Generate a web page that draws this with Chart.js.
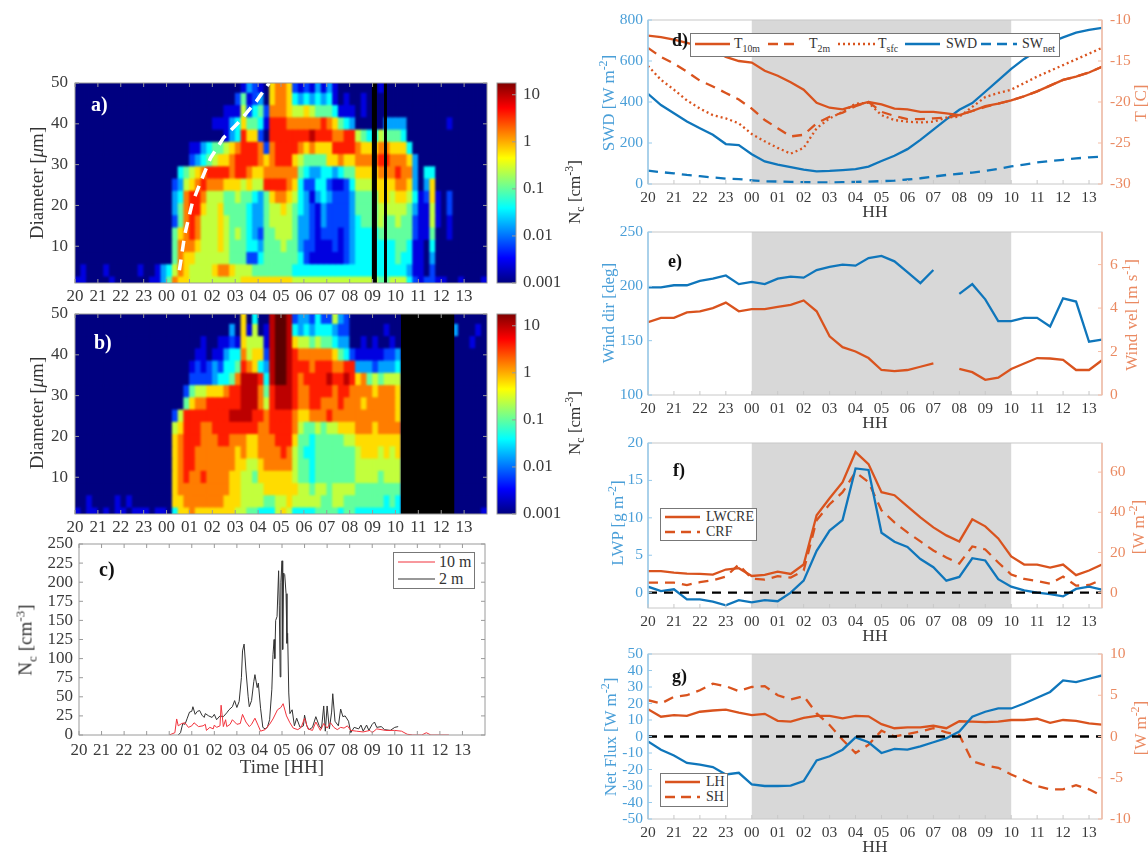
<!DOCTYPE html>
<html>
<head>
<meta charset="utf-8">
<script src="https://cdn.jsdelivr.net/npm/chart.js@4"></script>
<style>
html, body { margin: 0; background: #fff; }
#page { position: relative; width: 1148px; height: 855px; overflow: hidden; filter: blur(0.55px); font-family: "Liberation Serif", serif; color: #333; }
#page canvas { position: absolute; }
.txt { position: absolute; white-space: nowrap; line-height: 1; transform: translateY(-50%); }
.rot { position: absolute; white-space: nowrap; line-height: 1; transform: translate(-50%, -50%) rotate(-90deg); }
.box { position: absolute; background: #fff; border: 1.5px solid #777; box-sizing: border-box; }
sub, sup { font-size: 70%; line-height: 0; }
</style>
</head>
<body>
<div id="page"></div>
<script>
// hour axis: 20..23 then 00..13 the next day, counted on from 24
const HOUR_TICKS = [20, 21, 22, 23, 24, 25, 26, 27, 28, 29, 30, 31, 32, 33, 34, 35, 36, 37];
const HOUR_LABELS = ["20", "21", "22", "23", "00", "01", "02", "03", "04", "05", "06", "07", "08", "09", "10", "11", "12", "13"];
const HALF_HOURS = [20, 20.5, 21, 21.5, 22, 22.5, 23, 23.5, 24, 24.5, 25, 25.5, 26, 26.5, 27, 27.5, 28, 28.5,
    29, 29.5, 30, 30.5, 31, 31.5, 32, 32.5, 33, 33.5, 34, 34.5, 35, 35.5, 36, 36.5, 37, 37.5];

// bin edges of the size spectra, bottom to top
const DIAMETER_EDGES = [1, 2.5, 5.5, 8.5, 11.5, 14.5, 17.5, 20.5, 23.5, 26.5, 29.5, 32.5, 35.5, 38.5, 41.5, 44.5, 47.5, 50];
const DIAMETER_TICKS = [10, 20, 30, 40, 50];
const COLORBAR_TICKS = [0.001, 0.01, 0.1, 1, 10];

// spectra, top row first, one group per hour, 15 min per char.
// each char is a hex level: log10(Nc) = -3 + 0.4 * level
const heatRowsA = [
    "0000 0000 0000 0000 0000 0000 0000 0132 1078 8721 2131 3100 0000 0100 0000 0000 0000 0000",
    "0000 0000 0000 0000 0000 0000 0000 2512 3078 8743 4343 4101 0010 0000 0000 0000 0000 0000",
    "0000 0000 0000 0000 0000 0000 0011 1624 5288 8766 7655 5411 1010 0000 0000 0000 0000 0000",
    "0000 0000 0000 0000 0000 0000 1113 4755 4199 9888 8889 8754 3000 0033 3300 0000 0100 0000",
    "0000 0000 0000 0000 0000 0000 0013 4977 2099 9999 9A99 9889 9654 4655 5400 0000 0000 0000",
    "0000 0000 0000 0000 0000 1134 5567 8999 8289 9998 7877 7999 9877 7887 7740 0000 0000 0000",
    "0000 0000 0000 0000 0000 2345 6778 9999 8789 9976 5555 7787 7888 8998 8873 0000 0000 0000",
    "0000 0000 0000 0000 0045 6789 9998 9987 7888 8885 4334 4345 5777 7888 9883 0440 0000 0000",
    "0000 0000 0000 0000 0236 7898 8877 7676 6999 9874 2244 2112 4666 7777 8873 0370 0000 0000",
    "0000 0000 0000 0000 0348 9986 6655 6554 3578 8764 3134 3222 3555 5776 7764 1271 0200 0000",
    "0000 0000 0000 0000 0358 9976 6755 5543 3566 7654 3213 2222 3555 5666 6653 1161 0200 0000",
    "0000 0000 0000 0000 0258 9866 6765 5543 3566 6653 3213 2222 3455 5655 6552 1161 0100 0000",
    "0000 0000 0000 0000 0578 9866 6765 6543 2556 6653 3212 2212 3444 4555 5552 1150 0100 0000",
    "0000 0000 0000 0000 0588 8766 6765 5544 3555 6553 2211 1212 3444 4444 5541 1040 0000 0000",
    "0000 0000 0000 0000 0587 7666 6665 5522 4555 5554 2111 1112 3444 4444 5441 1030 0000 0000",
    "0100 0100 0001 0013 4687 6666 7887 6665 5555 5544 4444 4444 4444 4444 4431 1020 0000 0000",
    "1100 0010 0000 0113 5877 6666 6666 6777 7777 7766 6666 6666 6666 6556 6642 1221 1001 0001"
];
const heatRowsB = [
    "0000 0000 0000 0000 0000 0000 0000 0704 00AB BA23 3242 2632 0000 0000 0000 0000 0000 0000",
    "0000 0000 0000 0000 0000 0000 0003 0716 01AB BA43 4344 4322 0000 0010 0000 0000 0030 0010",
    "0000 0000 0000 0000 0000 0010 0112 1766 61AB BA76 6565 5433 0010 1001 0000 0000 0000 0100",
    "0000 0000 0000 0000 0000 0110 1134 4867 72AB BA98 8888 8754 2111 1122 3000 0000 0000 0000",
    "0000 0000 0000 0000 0000 1212 3244 5987 43AB BA99 9899 9889 9333 2333 4000 0000 0000 0000",
    "0000 0000 0000 0000 0000 2222 3445 8AAA 94AB BA98 9999 A99A 9785 6566 6000 0000 0000 0000",
    "0000 0000 0000 0000 0002 5667 7789 9AAA 859A AA98 8999 9899 8888 7888 7000 0000 0000 0000",
    "0000 0000 0000 0000 0005 7889 9999 9AAA 869A AA98 8998 8898 8878 8888 7000 0000 0000 0000",
    "0000 0000 0000 0000 0269 9999 999A AAA9 9899 9987 7888 9888 8888 8888 7000 0000 0000 0000",
    "0000 0000 0000 0000 0679 9988 9999 9999 8899 9986 5565 6677 7888 7888 8000 0000 0000 0000",
    "0000 0000 0000 0000 0789 9988 8998 8877 8889 9975 5455 5556 6777 7777 7000 0000 0000 0000",
    "0000 0000 0000 0000 0789 9888 8888 7877 8888 9865 4455 5555 5677 7676 7000 0000 0000 0000",
    "0000 0000 0000 0000 0789 9888 8888 7766 7888 8865 5455 5555 5666 6666 6000 0000 0000 0000",
    "0000 0000 0000 0000 0789 8898 8887 7665 7777 7765 5455 5555 5666 6566 6000 0000 0000 0000",
    "0000 0000 0000 0000 0788 8888 8887 7666 6777 7776 6566 5666 6555 5555 5000 0000 0000 0000",
    "0010 0001 0100 0000 0778 8888 8877 7666 6556 6766 6665 5665 5555 5545 4000 0000 0000 0000",
    "1011 0101 1011 1011 0477 8777 7777 6655 4446 7644 4455 5545 5444 4444 4000 0000 0000 0001"
];
// times without data, drawn black
const missingA = [[32.97, 33.19], [33.5, 33.63]];
const missingB = [[34.24, 36.57]];

// white dashed line in panel a
const dashTimes = [24.56, 24.8, 25.12, 25.52, 25.92, 26.48, 27.12, 27.92, 28.48];
const dashDiameters = [4.1, 13, 20.5, 26.2, 31.6, 36.5, 40.2, 45.5, 50];

// panel c
const NC_TICKS = [0, 25, 50, 75, 100, 125, 150, 175, 200, 225, 250];
const times2m = [24.4, 24.5, 24.6, 24.7, 24.8, 24.9, 25, 25.05, 25.15, 25.25, 25.35, 25.45, 25.55, 25.6, 25.75, 25.9, 26, 26.1, 26.25, 26.4,
    26.55, 26.65, 26.8, 26.9, 27, 27.1, 27.2, 27.25, 27.32, 27.4, 27.5, 27.55, 27.65, 27.75, 27.8, 27.9, 27.95, 28.05, 28.15, 28.25,
    28.35, 28.45, 28.55, 28.6, 28.65, 28.68, 28.72, 28.78, 28.85, 28.88, 28.92, 28.95, 29, 29.03, 29.07, 29.12, 29.18, 29.22, 29.25, 29.3,
    29.35, 29.45, 29.55, 29.65, 29.8, 29.95, 30, 30.1, 30.2, 30.35, 30.5, 30.65, 30.75, 30.85, 30.92, 31, 31.1, 31.2, 31.25, 31.35,
    31.5, 31.6, 31.7, 31.8, 31.95, 32.05, 32.2, 32.4, 32.5, 32.6, 32.75, 32.85, 33, 33.1, 33.2, 33.4, 33.55, 33.8, 34, 34.15];
const nc2m = [0, 3, 15, 14, 22, 30, 31, 37, 27, 31, 32, 26, 23, 28, 25, 23, 27, 20, 25, 24,
    29, 33, 37, 45, 36, 44, 75, 110, 119, 85, 50, 37, 45, 70, 79, 62, 68, 35, 10, 8,
    10, 20, 60, 105, 125, 100, 150, 155, 215, 170, 76, 200, 228, 112, 212, 210, 185, 120, 133, 55,
    28, 33, 12, 22, 10, 12, 26, 12, 7, 10, 24, 12, 8, 38, 5, 38, 8, 30, 54, 18,
    12, 34, 24, 25, 18, 3, 10, 8, 13, 5, 13, 6, 14, 17, 10, 11, 7, 6, 10, 11];
const times10m = [24, 24.25, 24.33, 24.4, 24.55, 24.7, 24.85, 25, 25.1, 25.3, 25.5, 25.6, 25.65, 25.8, 25.95, 26, 26.1, 26.25, 26.3, 26.4,
    26.5, 26.55, 26.7, 26.8, 27, 27.15, 27.25, 27.4, 27.55, 27.65, 27.8, 27.95, 28.05, 28.25, 28.45, 28.6, 28.8, 28.95, 29.05, 29.2,
    29.35, 29.5, 29.7, 29.85, 30, 30.15, 30.35, 30.5, 30.7, 30.85, 31, 31.15, 31.3, 31.45, 31.6, 31.75, 31.9, 32.05, 32.3, 32.6,
    32.9, 33, 33.2, 33.6, 34, 34.3, 34.55, 34.8, 35.2, 35.4, 35.6, 36.4];
const nc10m = [0, 3, 21, 12, 15, 16, 10, 12, 16, 11, 12, 14, 6, 10, 8, 13, 10, 12, 39, 11,
    20, 11, 14, 20, 14, 15, 27, 17, 11, 14, 22, 12, 5, 7, 14, 21, 33, 36, 41, 25,
    16, 9, 7, 10, 22, 8, 6, 17, 6, 15, 9, 16, 10, 7, 10, 9, 12, 6, 5, 4,
    6, 3, 8, 6, 6, 5, 1, 0, 0, 3, 0, 0];

// panel d
const swd = [440, 385, 345, 305, 272, 240, 195, 190, 145, 110, 95, 82, 70, 62, 64, 68, 73, 85, 112, 138, 170, 215, 265, 315, 362, 395, 450, 505, 562, 610, 650, 690, 715, 738, 752, 762];
const swNet = [65, 58, 52, 44, 38, 32, 26, 24, 18, 13, 12, 10, 9, 8, 8, 9, 10, 12, 14, 16, 22, 28, 36, 44, 50, 56, 64, 74, 86, 95, 105, 112, 118, 125, 130, 133];
const t10m = [-11.9, -12.1, -12.4, -12.8, -13.2, -13.6, -14.5, -15, -15.2, -16.2, -16.8, -17.6, -18.5, -20.1, -20.7, -20.9, -20.4, -20, -20.3, -20.8, -20.9, -21.2, -21.2, -21.4, -21.6, -21.1, -20.5, -20.2, -19.8, -19.3, -18.7, -18, -17.3, -16.9, -16.4, -15.7];
const t2m = [-13.4, -14.5, -15.3, -16.3, -17.4, -18.1, -18.9, -19.7, -20.8, -22.2, -23.2, -24.2, -24, -22.6, -21.8, -21.3, -20.5, -20, -21.2, -21.7, -22.1, -22.1, -22, -21.9, -21.6, -21.1, -20.6, -20.2, -19.8, -19.3, -18.7, -18, -17.3, -16.9, -16.4, -15.7];
const tSfc = [-15.6, -17.3, -18.5, -19.8, -20.8, -21.6, -22, -22.6, -23.9, -24.8, -25.6, -26.3, -25.6, -23.2, -22, -21.2, -20.2, -20.1, -21.6, -22.2, -22.4, -22.5, -22.4, -21.9, -21.8, -20.6, -19.4, -18.9, -18.5, -17.7, -16.9, -16.2, -15.5, -14.8, -14.1, -13.4];

// panel e
const windDir = [199, 199, 201, 201, 205, 207, 210, 202, 204, 202, 207, 209, 208, 215, 218, 220, 219, 226, 228, 223, 213, 203, 215, null, 193, 202, 188, 168, 168, 171, 171, 163, 189, 186, 149, 151];
const windVel = [3.35, 3.55, 3.55, 3.8, 3.85, 4, 4.25, 3.85, 3.95, 3.95, 4.05, 4.15, 4.35, 3.85, 2.7, 2.2, 2, 1.7, 1.15, 1.1, 1.15, 1.3, 1.45, null, 1.2, 1.05, 0.7, 0.8, 1.2, 1.45, 1.7, 1.68, 1.62, 1.15, 1.15, 1.6];

// panel f
const lwp = [0.8, 0.2, 0.45, -0.9, -0.9, -1.2, -1.7, -1, -1.3, -1, -1.15, 0, 1.6, 5.6, 8.3, 9.7, 16.6, 16.4, 8, 6.8, 6.1, 4.5, 3.4, 1.6, 2.1, 4.6, 4.3, 1.8, 0.8, 0.3, 0, -0.2, -0.5, 0.5, 0.8, 0.4];
const lwcre = [10.7, 10.7, 10, 9.5, 9.3, 9, 11.5, 12.2, 8.3, 8.8, 10.5, 9.3, 14, 38.5, 47, 55, 70, 64, 50, 48.5, 43, 37.5, 32.5, 28.5, 25.5, 36.5, 33, 27, 18, 14, 14, 12.5, 14, 8.7, 11, 14];
const crf = [5, 5, 5, 3.8, 5.2, 6.2, 8, 14, 7, 6.5, 8.2, 7.5, 11, 36, 44, 50, 60, 55, 41, 35, 30, 25.5, 21, 17.5, 14.5, 23, 21.5, 15, 9, 6.8, 5.8, 4.5, 8, 3.5, 3.8, 6.5];

// panel g
const netFlux = [-3, -8, -11.5, -16, -17, -18.5, -23, -22, -29, -30, -30, -29.8, -27, -14.5, -12, -8, -0.5, -3.5, -10, -7.5, -8, -6, -3.5, -1, 3, 12, 15, 17, 17, 20, 23.5, 27, 34, 33, 35, 37];
const lh = [3.3, 2.4, 2.6, 2.5, 3, 3.15, 3.25, 2.9, 2.6, 2.75, 1.9, 1.8, 2.25, 2.5, 2.5, 2.2, 2.5, 2.45, 1.5, 1, 1.1, 1.1, 1.3, 1, 1.85, 1.8, 1.75, 1.8, 2, 2, 2.15, 1.65, 2, 1.9, 1.6, 1.45];
const sh = [4.4, 4, 4.8, 5, 5.6, 6.4, 6.1, 5.5, 6, 6.1, 5, 4.5, 4.9, 2.8, 1.4, -0.4, -2, -1, 0.7, 0, 0.3, 0.6, 1, 0.5, 0.2, -3, -3.5, -3.8, -4.6, -5.3, -6, -6.4, -6.4, -5.9, -6.4, -7.2];

const zeroTimes = [20, 37.5];
const zeroLine = [0, 0];
const NIGHT = [24, 34];

const BLUE = "#0f76bb";
const ORANGE = "#d9531e";
const BLUE_TEXT = "#4a9fd8";
const ORANGE_TEXT = "#ea8a62";
const BLUE_SPINE = "#97cbec";
const ORANGE_SPINE = "#f5bda6";
const DARK = "#3a3a3a";
const PAD_TOP = 24;

Chart.defaults.font.family = '"Liberation Serif", serif';
Chart.defaults.animation = false;
Chart.defaults.responsive = false;
Chart.defaults.devicePixelRatio = 1;
Chart.defaults.plugins.legend.display = false;
Chart.defaults.plugins.tooltip.enabled = false;

// gray night band, black no-data columns, box and inward tick marks
Chart.register({
    id: "panelDecor",
    beforeDatasetsDraw(chart, args, opts) {
        if (!opts.shade) return;
        const { ctx, chartArea, scales } = chart;
        const x0 = scales.x.getPixelForValue(opts.shade[0]);
        const x1 = scales.x.getPixelForValue(opts.shade[1]);
        ctx.fillStyle = "#d8d8d8";
        ctx.fillRect(x0, chartArea.top, x1 - x0, chartArea.height);
    },
    afterDatasetDraw(chart, args, opts) {
        // the spectra are soft in the reference, so smear the cells once they are all down
        if (!opts.smooth || args.meta.type !== "bar") return;
        const { ctx, chartArea } = chart;
        const { left, top, width, height } = chartArea;
        ctx.save();
        ctx.beginPath();
        ctx.rect(left, top, width, height);
        ctx.clip();
        ctx.filter = `blur(${opts.smooth}px)`;
        ctx.drawImage(chart.canvas, left, top, width, height, left, top, width, height);
        ctx.restore();
    },
    afterDatasetsDraw(chart, args, opts) {
        const { ctx, chartArea, scales } = chart;
        ctx.fillStyle = "#000";
        (opts.missing || []).forEach(span => {
            const x0 = scales.x.getPixelForValue(span[0]);
            const x1 = scales.x.getPixelForValue(span[1]);
            ctx.fillRect(x0, chartArea.top, x1 - x0, chartArea.height);
        });
        const { left, right, top, bottom } = chartArea;
        const frame = opts.frame || "#999";
        ctx.lineWidth = 1;
        ctx.strokeStyle = frame;
        ctx.strokeRect(left, top, right - left, bottom - top);
        const tick = (x0, y0, x1, y1, color) => {
            ctx.strokeStyle = color;
            ctx.beginPath();
            ctx.moveTo(x0, y0);
            ctx.lineTo(x1, y1);
            ctx.stroke();
        };
        const leftColor = opts.leftColor || frame;
        const rightColor = opts.rightColor || frame;
        if (opts.leftColor) { ctx.lineWidth = 1.5; tick(left, top, left, bottom, leftColor); ctx.lineWidth = 1; }
        if (opts.rightColor) { ctx.lineWidth = 1.5; tick(right, top, right, bottom, rightColor); ctx.lineWidth = 1; }
        Object.values(scales).forEach(scale => {
            if (!scale.options.display) return;
            scale.ticks.forEach(t => {
                const p = scale.getPixelForValue(t.value);
                if (scale.axis === "x") {
                    tick(p, bottom, p, bottom - 4, frame);
                    if (opts.mirror) tick(p, top, p, top + 4, frame);
                } else if (scale.position === "left") {
                    tick(left, p, left + 4, p, leftColor);
                    if (opts.mirror) tick(right, p, right - 4, p, frame);
                } else {
                    tick(right, p, right - 4, p, rightColor);
                }
            });
        });
    }
});

function addCanvas(left, top, width, height) {
    const canvas = document.createElement("canvas");
    canvas.width = width;
    canvas.height = height;
    canvas.style.left = left + "px";
    canvas.style.top = top + "px";
    canvas.style.width = width + "px";
    canvas.style.height = height + "px";
    document.getElementById("page").appendChild(canvas);
    return canvas;
}

function pairs(xs, ys) {
    return xs.map((x, i) => ({ x: x, y: ys[i] }));
}

function line(label, xs, ys, color, width, dash, axis) {
    return {
        type: "line",
        label: label,
        data: pairs(xs, ys),
        borderColor: color,
        borderWidth: width,
        borderDash: dash || [],
        pointRadius: 0,
        tension: 0,
        spanGaps: false,
        yAxisID: axis || "y"
    };
}

function jet(t) {
    const ch = v => Math.round(255 * Math.max(0, Math.min(1, v)));
    return `rgb(${ch(1.5 - Math.abs(4 * t - 3))}, ${ch(1.5 - Math.abs(4 * t - 2))}, ${ch(1.5 - Math.abs(4 * t - 1))})`;
}

function levelColor(level) {
    return jet(0.4 * level / 4.25);
}

function hourAxis(size, fontSize, title, max, padding) {
    return {
        type: "linear",
        min: 20,
        max: max,
        offset: false,
        grid: { display: false, offset: false, drawTicks: false },
        border: { display: false },
        afterBuildTicks: scale => { scale.ticks = HOUR_TICKS.map(v => ({ value: v })); },
        afterFit: scale => { scale.height = size; },
        ticks: {
            autoSkip: false,
            maxRotation: 0,
            padding: padding,
            color: DARK,
            font: { size: fontSize },
            callback: value => HOUR_LABELS[HOUR_TICKS.indexOf(value)]
        },
        title: title ? { display: true, text: title, color: DARK, padding: 0, font: { size: fontSize + 2 } } : { display: false }
    };
}

function valueAxis(position, min, max, tickValues, size, color, fontSize, padding) {
    return {
        type: "linear",
        position: position,
        min: min,
        max: max,
        grid: { display: false, drawTicks: false },
        border: { display: false },
        afterBuildTicks: scale => { scale.ticks = tickValues.map(v => ({ value: v })); },
        afterFit: scale => { scale.width = size; },
        ticks: { autoSkip: false, padding: padding, color: color, font: { size: fontSize } }
    };
}

function createHeatChart(rows, missing, plotTop, extraDatasets) {
    const cells = [];
    const colors = [];
    rows.forEach((row, r) => {
        const levels = row.replace(/ /g, "");
        const lo = DIAMETER_EDGES[rows.length - 1 - r];
        const hi = DIAMETER_EDGES[rows.length - r];
        for (let i = 0; i < levels.length; i++) {
            cells.push({ x: 20 + (i + 0.5) / 4, y: [lo, hi] });
            colors.push(levelColor(parseInt(levels[i], 16)));
        }
    });
    const config = {
        type: "bar",
        data: {
            datasets: extraDatasets.concat([{
                data: cells,
                backgroundColor: colors,
                barPercentage: 1,
                categoryPercentage: 1,
                order: 2
            }])
        },
        options: {
            layout: { padding: { top: PAD_TOP, right: 3 } },
            scales: {
                x: hourAxis(30, 17, null, 38, 3),
                y: valueAxis("left", 1, 50, DIAMETER_TICKS, 75, DARK, 17, 7)
            },
            plugins: { panelDecor: { missing: missing, mirror: true, frame: "#9a9a9a", smooth: 1.3 } }
        }
    };
    return new Chart(addCanvas(0, plotTop - PAD_TOP, 490, PAD_TOP + 200 + 30), config);
}

function createColorbar(plotTop) {
    const config = {
        type: "bar",
        data: {
            labels: [""],
            datasets: [{
                data: [[0.001, 17.78]],
                barPercentage: 1,
                categoryPercentage: 1,
                backgroundColor: context => {
                    const { ctx, chartArea } = context.chart;
                    if (!chartArea) return "#000";
                    const gradient = ctx.createLinearGradient(0, chartArea.bottom, 0, chartArea.top);
                    for (let i = 0; i <= 32; i++) gradient.addColorStop(i / 32, jet(i / 32));
                    return gradient;
                }
            }]
        },
        options: {
            layout: { padding: { top: PAD_TOP, bottom: 30, left: 7 } },
            scales: {
                x: { display: false },
                y: {
                    type: "logarithmic",
                    position: "right",
                    min: 0.001,
                    max: 17.78,
                    grid: { display: false, drawTicks: false },
                    border: { display: false },
                    afterBuildTicks: scale => { scale.ticks = COLORBAR_TICKS.map(v => ({ value: v })); },
                    afterFit: scale => { scale.width = 54; },
                    ticks: { autoSkip: false, padding: 7, color: DARK, font: { size: 17 }, callback: value => String(value) }
                }
            },
            plugins: { panelDecor: { frame: "#9a9a9a" } }
        }
    };
    return new Chart(addCanvas(490, plotTop - PAD_TOP, 80, PAD_TOP + 200 + 30), config);
}

function createNcChart() {
    const config = {
        type: "line",
        data: {
            datasets: [
                line("10 m", times10m, nc10m, "#f2323c", 1),
                line("2 m", times2m, nc2m, "#333333", 1)
            ]
        },
        options: {
            layout: { padding: { top: PAD_TOP, right: 5 } },
            scales: {
                x: hourAxis(44, 17, "Time [HH]", 38, 5),
                y: valueAxis("left", 0, 250, NC_TICKS, 79, DARK, 17, 6)
            },
            plugins: { panelDecor: { mirror: true, frame: "#9a9a9a" } }
        }
    };
    return new Chart(addCanvas(0, 544 - PAD_TOP, 490, PAD_TOP + 191 + 44), config);
}

function createDualAxisChart(plotTop, plotHeight, datasets, left, right) {
    const config = {
        type: "line",
        data: { datasets: datasets },
        options: {
            layout: { padding: { top: PAD_TOP } },
            scales: {
                x: hourAxis(39, 15.5, "HH", 37.5, 5),
                y: valueAxis("left", left.min, left.max, left.ticks, 58, BLUE_TEXT, 15.5, 5),
                y2: valueAxis("right", right.min, right.max, right.ticks, 46, ORANGE_TEXT, 15.5, 8)
            },
            plugins: {
                panelDecor: { shade: NIGHT, frame: "#c8c8c8", leftColor: BLUE_SPINE, rightColor: ORANGE_SPINE }
            }
        }
    };
    return new Chart(addCanvas(590, plotTop - PAD_TOP, 558, PAD_TOP + plotHeight + 39), config);
}

function text(html, x, y, size, color, weight) {
    const el = document.createElement("div");
    el.className = "txt";
    el.innerHTML = html;
    el.style.cssText = `left:${x}px;top:${y}px;font-size:${size}px;color:${color || "#333"};font-weight:${weight || "normal"}`;
    document.getElementById("page").appendChild(el);
}

function rotated(html, x, y, size, color) {
    const el = document.createElement("div");
    el.className = "rot";
    el.innerHTML = html;
    el.style.cssText = `left:${x}px;top:${y}px;font-size:${size}px;color:${color || "#333"}`;
    document.getElementById("page").appendChild(el);
}

function legendBox(x, y, w, h) {
    const el = document.createElement("div");
    el.className = "box";
    el.style.cssText = `left:${x}px;top:${y}px;width:${w}px;height:${h}px`;
    document.getElementById("page").appendChild(el);
}

function legendLine(x0, x1, y, color, width, dash) {
    const svg = document.createElementNS("http://www.w3.org/2000/svg", "svg");
    svg.setAttribute("style", `position:absolute;left:${x0}px;top:${y - 3}px;width:${x1 - x0}px;height:6px`);
    const l = document.createElementNS("http://www.w3.org/2000/svg", "line");
    l.setAttribute("x1", 0);
    l.setAttribute("x2", x1 - x0);
    l.setAttribute("y1", 3);
    l.setAttribute("y2", 3);
    l.setAttribute("stroke", color);
    l.setAttribute("stroke-width", width);
    if (dash) l.setAttribute("stroke-dasharray", dash);
    svg.appendChild(l);
    document.getElementById("page").appendChild(svg);
}

// left column
createHeatChart(heatRowsA, missingA, 83, [
    Object.assign(line("", dashTimes, dashDiameters, "#fff", 3.5, [11, 8]), { order: 1 })
]);
createColorbar(83);
createHeatChart(heatRowsB, missingB, 314, []);
createColorbar(314);
createNcChart();

// right column
createDualAxisChart(20, 164, [
    line("T10m", HALF_HOURS, t10m, ORANGE, 2.3, null, "y2"),
    line("T2m", HALF_HOURS, t2m, ORANGE, 2.3, [10, 7], "y2"),
    line("Tsfc", HALF_HOURS, tSfc, ORANGE, 2.3, [2, 3], "y2"),
    line("SWD", HALF_HOURS, swd, BLUE, 2.3),
    line("SWnet", HALF_HOURS, swNet, BLUE, 2.3, [10, 7])
], { min: 0, max: 800, ticks: [0, 200, 400, 600, 800] }, { min: -30, max: -10, ticks: [-30, -25, -20, -15, -10] });

createDualAxisChart(232, 163, [
    line("Wind dir", HALF_HOURS, windDir, BLUE, 2.3),
    line("Wind vel", HALF_HOURS, windVel, ORANGE, 2.3, null, "y2")
], { min: 100, max: 250, ticks: [100, 150, 200, 250] }, { min: 0, max: 7.5, ticks: [0, 2, 4, 6] });

createDualAxisChart(443, 165, [
    line("zero", zeroTimes, zeroLine, "#000", 2.3, [9, 7]),
    line("LWP", HALF_HOURS, lwp, BLUE, 2.3),
    line("LWCRE", HALF_HOURS, lwcre, ORANGE, 2.3, null, "y2"),
    line("CRF", HALF_HOURS, crf, ORANGE, 2.3, [10, 7], "y2")
], { min: -2.05, max: 20, ticks: [0, 5, 10, 15, 20] }, { min: -7.64, max: 74.5, ticks: [0, 20, 40, 60] });

createDualAxisChart(654, 165, [
    line("zero", zeroTimes, zeroLine, "#000", 2.3, [9, 7]),
    line("Net Flux", HALF_HOURS, netFlux, BLUE, 2.3),
    line("LH", HALF_HOURS, lh, ORANGE, 2.3, null, "y2"),
    line("SH", HALF_HOURS, sh, ORANGE, 2.3, [10, 7], "y2")
], { min: -50, max: 50, ticks: [-50, -40, -30, -20, -10, 0, 10, 20, 30, 40, 50] }, { min: -10, max: 10, ticks: [-10, -5, 0, 5, 10] });

// axis titles with sub- and superscripts
const NC_LABEL = "N<sub>c</sub> [cm<sup>-3</sup>]";
rotated("Diameter [<i>μ</i>m]", 36, 183, 19);
rotated("Diameter [<i>μ</i>m]", 36, 413, 19);
rotated(NC_LABEL, 574, 192, 17);
rotated(NC_LABEL, 574, 423, 17);
rotated(NC_LABEL, 25, 640, 19);
rotated("SWD [W m<sup>-2</sup>]", 608, 103, 17, BLUE_TEXT);
rotated("T [C]", 1140, 103, 17, ORANGE_TEXT);
rotated("Wind dir [deg]", 608, 313, 17, BLUE_TEXT);
rotated("Wind vel [m s<sup>-1</sup>]", 1131, 315, 17, ORANGE_TEXT);
rotated("LWP [g m<sup>-2</sup>]", 617, 523, 17, BLUE_TEXT);
rotated("[W m<sup>-2</sup>]", 1138, 527, 17, ORANGE_TEXT);
rotated("Net Flux [W m<sup>-2</sup>]", 610, 737, 17, BLUE_TEXT);
rotated("[W m<sup>-2</sup>]", 1140, 728, 17, ORANGE_TEXT);

// panel letters
text("a)", 91, 104, 20, "#fff", "bold");
text("b)", 94, 342, 20, "#fff", "bold");
text("c)", 99, 569, 20, "#111", "bold");
text("e)", 668, 261, 18, "#111", "bold");
text("f)", 673, 470, 18, "#111", "bold");
text("g)", 672, 676, 18, "#111", "bold");

// legends
legendBox(393, 552, 82, 37);
legendLine(398, 435, 562, "#f2323c", 1.2);
legendLine(398, 435, 579, "#333", 1.2);
text("10 m", 439, 562, 16);
text("2 m", 439, 579, 16);

legendBox(690, 33, 370, 24);
legendLine(695, 730, 44, ORANGE, 2.3);
text("T<sub>10m</sub>", 734, 44, 14);
legendLine(768, 800, 44, ORANGE, 2.3, "10 6");
text("T<sub>2m</sub>", 809, 44, 14);
legendLine(838, 875, 44, ORANGE, 2.3, "2 3");
text("T<sub>sfc</sub>", 878, 44, 14);
legendLine(905, 940, 44, BLUE, 2.3);
text("SWD", 946, 44, 14);
legendLine(981, 1017, 44, BLUE, 2.3, "10 6");
text("SW<sub>net</sub>", 1022, 44, 14);
text("d)", 672, 40, 18, "#111", "bold");

legendBox(660, 508, 97, 33);
legendLine(665, 700, 517, ORANGE, 2.3);
legendLine(665, 700, 532, ORANGE, 2.3, "10 6");
text("LWCRE", 706, 517, 14);
text("CRF", 706, 532, 14);

legendBox(660, 773, 68, 34);
legendLine(665, 700, 782, ORANGE, 2.3);
legendLine(665, 700, 797, ORANGE, 2.3, "10 6");
text("LH", 706, 782, 14);
text("SH", 706, 797, 14);
</script>
</body>
</html>
